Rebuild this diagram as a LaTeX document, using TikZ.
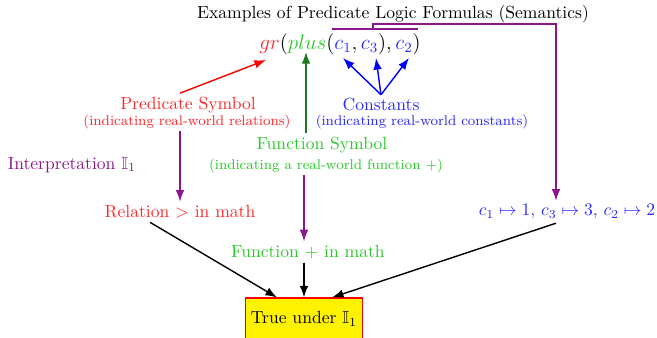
\documentclass[tikz,border=0pt]{standalone}
\usepackage{amssymb}
\usetikzlibrary{arrows.meta, calc}
\definecolor{rd}{RGB}{255,40,40}
\definecolor{gn}{RGB}{40,200,40}
\definecolor{dg}{RGB}{30,120,30}
\definecolor{bl}{RGB}{40,40,255}
\definecolor{vi}{RGB}{140,20,140}
\tikzset{
  lbl/.style = {inner sep=2pt},
  sm/.style = {font=\footnotesize, inner sep=1pt},
  res/.style = {draw=red, fill=yellow, text=black, line width=0.6pt,
    minimum width=2.34cm, minimum height=0.84cm, inner sep=2pt},
  pa/.style = {-{Latex}, thick, draw=vi},
  ka/.style = {-{Latex}, thick, draw=black},
  ra/.style = {-{Latex}, thick, draw=red},
  ga/.style = {-{Latex}, thick, draw=dg},
  ba/.style = {-{Latex}, thick, draw=blue}
}

\begin{document}
\begin{tikzpicture}[x=0.02cm, y=0.02cm]
  \useasboundingbox (0,0) rectangle (657,338);
  \node [lbl] (tit) at (393,324) {Examples of Predicate Logic Formulas (Semantics)};
  \node [lbl, font=\large] (fml) at (340,294)
    {$\textcolor{rd}{gr}(\textcolor{gn}{plus}(\textcolor{bl}{c_1}, \textcolor{bl}{c_3}), \textcolor{bl}{c_2})$};
  % parts of the formula
  \coordinate (gr) at (266,278);
  \coordinate (pl) at (306,286);
  \coordinate (c1) at (343,280);
  \coordinate (c3) at (376,280);
  \coordinate (c2) at (409,280);
  \coordinate (ovl) at (332,309);
  \coordinate (ovr) at (418,309);
  \coordinate (brk) at (373,314);
  \coordinate (brr) at (556,314);
  % symbols
  \node [lbl, text=rd] (pred) at (188,233) {Predicate Symbol};
  \node [sm, text=rd] (predsub) at (187,216) {(indicating real-world relations)};
  \node [lbl, text=bl] (cst) at (381,233) {Constants};
  \node [sm, text=bl] (cstsub) at (422,216) {(indicating real-world constants)};
  \node [lbl, text=gn] (fsym) at (322,193) {Function Symbol};
  \node [sm, text=gn] (fsub) at (326,172) {(indicating a real-world function $+$)};
  \node [lbl, text=vi] (itp) at (72,173) {Interpretation $\mathbb{I}_1$};
  % meanings
  \node [lbl, text=rd] (rel) at (180,126) {Relation $>$ in math};
  \node [lbl, text=gn] (fun) at (308,86) {Function $+$ in math};
  \node [lbl, text=bl] (map) at (567,126) {$c_1\mapsto 1$, $c_3\mapsto 3$, $c_2\mapsto 2$};
  \node [res] (box) at (304,19) {True under $\mathbb{I}_1$};
  % arrows
  \draw [ra] (pred.north -| rel) -- (gr);
  \draw [ga] (fsym.north -| pl) -- (pl);
  \foreach \c in {c1,c3,c2} \draw [ba] (cst.north) -- (\c);
  \draw [thick, vi] (ovl) -- (ovr);
  \draw [pa] (brk |- ovl) -- (brk) -- (brr) -- (map.north -| brr);
  \draw [pa] (predsub.south -| rel) -- (rel.north);
  \draw [pa] (fsub.south -| box.north) -- (fun.north -| box.north);
  \draw [ka] ($(rel.south)+(-30,0)$) -- ($(box.north)+(-27,0)$);
  \draw [ka] (fun.south -| box.north) -- (box.north);
  \draw [ka] (map.south -| brr) -- ($(box.north)+(28,0)$);
\end{tikzpicture}
\end{document}
